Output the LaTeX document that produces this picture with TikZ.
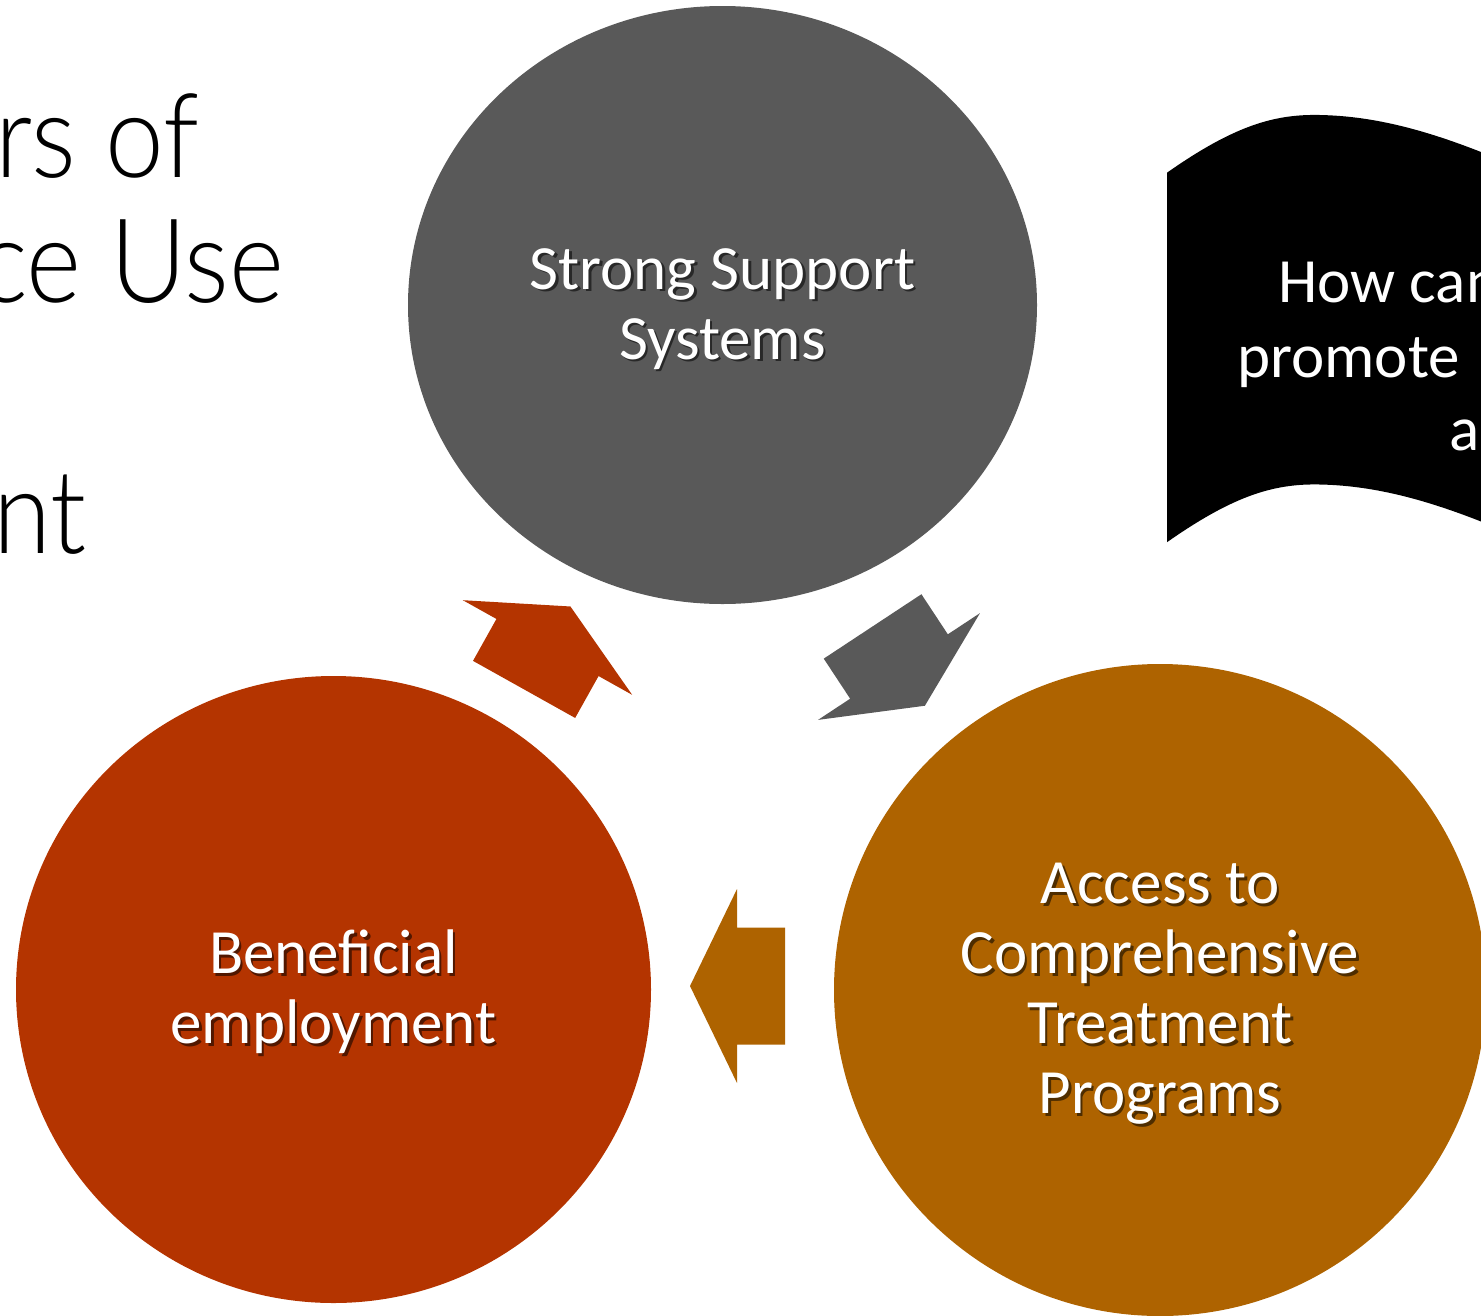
\documentclass[tikz,border=0pt]{standalone}
\usepackage{fontspec}
\setmainfont{Carlito}
\newfontfamily\thintitle{Lato Light}[FakeStretch=0.9]
\usetikzlibrary{shapes.geometric}

\definecolor{supportgray}{RGB}{89,89,89}
\definecolor{employred}{RGB}{180,52,0}
\definecolor{accessbrown}{RGB}{174,99,0}

% white text with a darker copy of itself just below and to the right;
% the strut makes each line a bit taller, so the block sits lower
\newcommand\dropshadow[1]{\leavevmode\rule{0pt}{51pt}%
	\rlap{\kern2.5pt\raisebox{-2.5pt}{\color{shadowcol}#1}}#1}

\tikzset{factor/.style={
		% The shape:
		ellipse, inner sep=0pt,
		% The filling:
		fill=#1,
		% The text, with a shadow a bit darker than the filling
		text=white, align=center,
		font=\fontsize{63}{70}\selectfont,
		execute at begin node={\colorlet{shadowcol}{#1!45!black}},
}}
\tikzset{headline/.style={
		% big title lines, cut off by the left edge
		font=\thintitle\fontsize{117}{125}\selectfont,
		anchor=base east, inner sep=0pt,
}}
\tikzset{question/.style={
		text=white, font=\fontsize{63}{74}\selectfont,
		anchor=base west, inner sep=0pt,
}}
\tikzset{cyclearrow/.pic={
		% stubby block arrow, tip on the +x side
		\fill (-48,-58.5) -- (0,-58.5) -- (0,-97) -- (47,0)
		-- (0,97) -- (0,58.5) -- (-48,58.5) -- cycle;
}}

\begin{document}
\begin{tikzpicture}[x=1pt,y=-1pt]
	\useasboundingbox (0,0) rectangle (1481,1315);
	\clip (0,0) rectangle (1481,1315);

	% title
	\node[headline] (title1) at (199,177) {rs of};
	\node[headline] (title2) at (284,302) {ce Use};
	\node[headline] (title4) at (87,553) {nt};

	% the three circles of the cycle
	\node[factor=supportgray, minimum width=629pt, minimum height=598pt]
	(support) at (722.5,305) {\dropshadow{Strong Support}\\\dropshadow{Systems}};
	\node[factor=employred, minimum width=635pt, minimum height=627pt]
	(employ) at (333.5,989.5) {\dropshadow{Beneficial}\\\dropshadow{employment}};
	\node[factor=accessbrown, minimum width=652pt, minimum height=652pt]
	(access) at (1160,990) {\dropshadow{Access to}\\\dropshadow{Comprehensive}\\
		\dropshadow{Treatment}\\\dropshadow{Programs}};

	% arrows going round
	\pic[fill=employred, rotate=60.8] at (547.5,647.5) {cyclearrow};
	\pic[fill=supportgray, rotate=-56.6] at (899,666.5) {cyclearrow};
	\pic[fill=accessbrown, rotate=180] at (737,986) {cyclearrow};

	% black wave banner on the right
	\fill (1167,172.7) .. controls (1235,125) and (1275,114) .. (1320,115)
	.. controls (1370,116) and (1420,128) .. (1481,152) -- (1490,156)
	-- (1490,525) -- (1481,521.5)
	.. controls (1420,497.5) and (1370,485.5) .. (1320,484.5)
	.. controls (1275,483.5) and (1235,494.5) .. (1167,542.2) -- cycle;
	\node[question] (q1) at (1278,302) {How can};
	\node[question] (q2) at (1237,377) {promote};
	\node[question] (q3) at (1449,450) {a};
\end{tikzpicture}
\end{document}
